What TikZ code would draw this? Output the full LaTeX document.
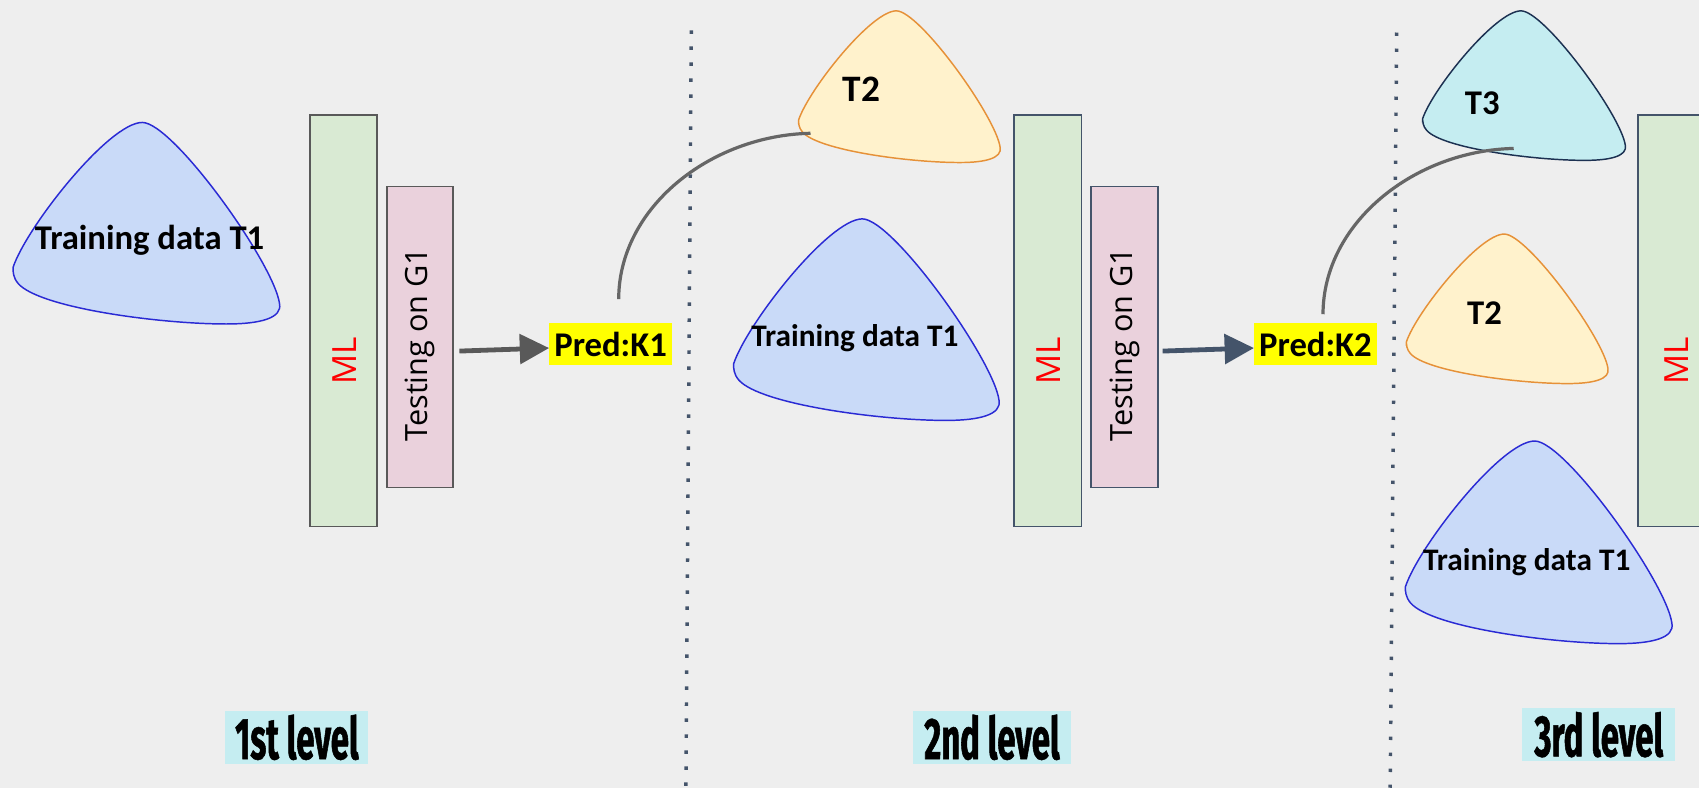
\documentclass[tikz,border=0pt]{standalone}
\usepackage{fontspec}
\setmainfont{Carlito}
\newfontfamily\osans{Open Sans}
\newfontfamily\levelfont{Fira Sans}[FakeStretch=0.56, FakeBold=0.9]
\usetikzlibrary{arrows.meta}

\definecolor{bg}{HTML}{EEEEEE}
\definecolor{blueFill}{HTML}{C9DAF8}
\definecolor{blueLine}{HTML}{2A2AD4}
\definecolor{orangeFill}{HTML}{FFF2CC}
\definecolor{orangeLine}{HTML}{E69138}
\definecolor{cyanFill}{HTML}{C5EDF1}
\definecolor{navyLine}{HTML}{1C3152}
\definecolor{mlFill}{HTML}{D9EAD3}
\definecolor{testFill}{HTML}{EAD1DC}
\definecolor{boxLine}{HTML}{595959}
\definecolor{slate}{HTML}{44546A}
\definecolor{curveGray}{HTML}{666666}
\definecolor{predYellow}{HTML}{FFFF00}

% rounded "triangle" data blob: x0, y0, width, height, fill, line
\newcommand\datablob[6]{%
  \begin{scope}[shift={(#1,#2)}, xscale=#3, yscale=#4]
    \filldraw[fill=#5, draw=#6, line width=1.1pt]
      (0,0.72) .. controls (0.05,0.52) and (0.36,0) .. (0.485,0)
      .. controls (0.6,0) and (0.98,0.7) .. (1,0.9)
      .. controls (1.01,0.97) and (0.93,1) .. (0.8,1)
      .. controls (0.55,1) and (0.1,0.92) .. (0.02,0.8)
      .. controls (0,0.77) and (0,0.74) .. cycle;
  \end{scope}}

\tikzset{
  blobtext/.style={font=\bfseries, inner sep=0pt, text=black},
  mlbox/.style={draw=boxLine, line width=1.3pt, fill=mlFill},
  testbox/.style={draw=boxLine, line width=1.3pt, fill=testFill},
  mltext/.style={font=\osans\fontsize{25}{29}\selectfont, text=red, rotate=90, inner sep=0pt},
  testtext/.style={font=\osans\fontsize{23}{27}\selectfont, rotate=90, inner sep=0pt},
  predbox/.style={fill=predYellow, inner sep=0pt, minimum width=91.8pt, minimum height=31.7pt,
    font=\bfseries\fontsize{26}{30}\selectfont},
  flowarrow/.style={line width=3.6pt, -{Triangle[length=22pt,width=22pt]}},
  feedcurve/.style={draw=curveGray, line width=2.4pt},
  divider/.style={draw=slate, line width=2.6pt, dash pattern=on 2.6pt off 9.4pt},
  levelbox/.style={fill=cyanFill, inner sep=0pt, minimum height=39.8pt,
    font=\levelfont\bfseries\fontsize{44}{47}\selectfont}
}

\begin{document}
\begin{tikzpicture}[x=0.8126pt, y=-0.8126pt]
\useasboundingbox (0,0) rectangle (1568,727);
\clip (0,0) rectangle (1568,727);
\fill[bg] (0,0) rectangle (1568,727);

% level dividers
\coordinate (d1t) at (638,28);  \coordinate (d1b) at (633,727);
\coordinate (d2t) at (1289,30); \coordinate (d2b) at (1283,727);
\draw[divider] (d1t) -- (d1b);
\draw[divider] (d2t) -- (d2b);

% ---------- 1st level ----------
\datablob{12}{113}{246}{186}{blueFill}{blueLine}
\node[blobtext, font=\bfseries\fontsize{26}{30}\selectfont] (t1a) at (138,222) {Training data T1};

\draw[mlbox] (286,106) rectangle (348,486);
\node[mltext] (ml1) at (318,333) {ML};
\draw[testbox] (357,172) rectangle (418,450);
\node[testtext] (test1) at (388,318) {Testing on G1};

\node[predbox] (pred1) at (563.5,317.5) {Pred:K1};
\coordinate (a1) at (424,324);
\draw[flowarrow, draw=boxLine, fill=boxLine] (a1) -- ([yshift=-3pt]pred1.west);

\node[levelbox, minimum width=107.3pt] (lev1) at (274,680.5) {1st level};

% ---------- 2nd level ----------
\datablob{737}{10}{186}{140}{orangeFill}{orangeLine}
\node[blobtext, font=\bfseries\fontsize{28}{32}\selectfont] (t2b) at (795,82) {T2};
\datablob{677}{202}{245}{186}{blueFill}{blueLine}
\node[blobtext, font=\bfseries\fontsize{23.5}{27}\selectfont] (t1b) at (789,312) {Training data T1};

\draw[mlbox, draw=slate] (936,106) rectangle (998,486);
\node[mltext] (ml2) at (968,333) {ML};
\draw[testbox, draw=slate] (1007,172) rectangle (1069,450);
\node[testtext] (test2) at (1038,318) {Testing on G1};

\node[predbox] (pred2) at (1214,317.5) {Pred:K2};
\coordinate (a2) at (1073,324);
\draw[flowarrow, draw=slate, fill=slate] (a2) -- ([yshift=-3pt]pred2.west);

\node[levelbox, minimum width=117.8pt] (lev2) at (915.5,680.5) {2nd level};

% ---------- 3rd level ----------
\datablob{1313}{10}{187}{138}{cyanFill}{navyLine}
\node[blobtext, font=\bfseries\fontsize{26}{30}\selectfont] (t3c) at (1368,95) {T3};
\datablob{1298}{216}{186}{138}{orangeFill}{orangeLine}
\node[blobtext, font=\bfseries\fontsize{26}{30}\selectfont] (t2c) at (1370,289) {T2};
\datablob{1297}{407}{246}{187}{blueFill}{blueLine}
\node[blobtext, font=\bfseries\fontsize{23.5}{27}\selectfont] (t1c) at (1409,519) {Training data T1};

\draw[mlbox, draw=slate] (1512,106) rectangle (1600,486);
\node[mltext] (ml3) at (1547,333) {ML};

\node[levelbox, minimum width=114.6pt] (lev3) at (1475.5,678) {3rd level};

% feedback curves from each prediction to the next level's new data
\coordinate (c1s) at (571,276);
\coordinate (c1e) at (748,123);
\draw[feedcurve] (c1s) .. controls (571,192) and (655,125) .. (c1e);
\coordinate (c2s) at (1221,290);
\coordinate (c2e) at (1397,137);
\draw[feedcurve] (c2s) .. controls (1221,206) and (1305,139) .. (c2e);
\end{tikzpicture}
\end{document}
